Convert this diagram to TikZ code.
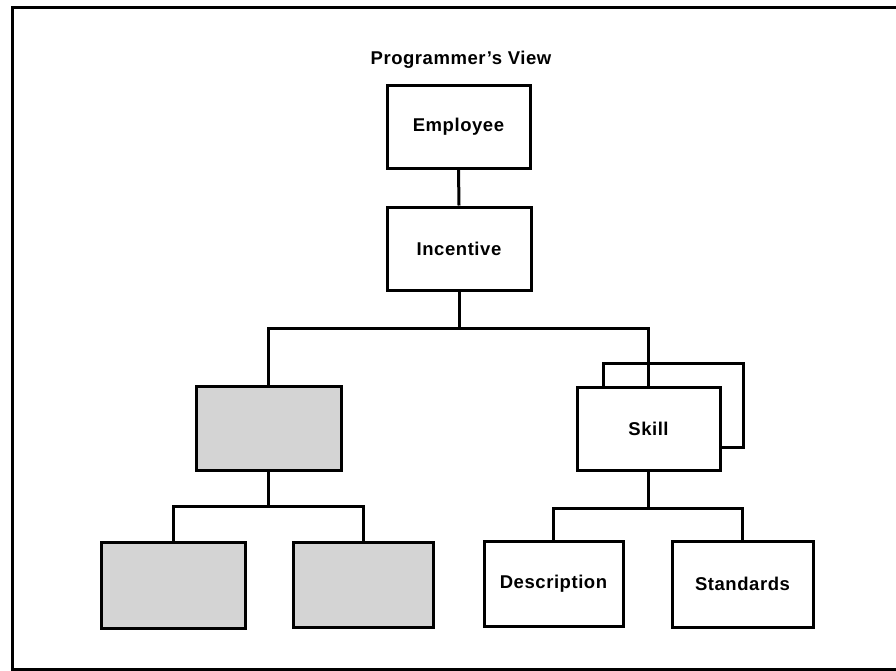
\documentclass[tikz,border=0pt]{standalone}
\usepackage{fontspec}
\setmainfont{Liberation Sans}[LetterSpace=3]
\begin{document}
\begin{tikzpicture}[x=1pt,y=-1pt,
  line width=3pt,
  lbl/.style={font=\fontsize{18.5}{22}\selectfont\bfseries},
  box/.style={draw, line width=3pt, fill=white, minimum width=#1, minimum height=83pt, inner sep=0pt, lbl},
  box/.default=143pt,
  shaded/.style={box=#1, fill=black!17},
  shaded/.default=144pt,
  link/.style={line width=3pt, line join=miter}]
\useasboundingbox (0,0) rectangle (896,671);
% outer frame, right edge runs off the page
\draw[line width=3pt] (920,8) -- (12.5,8) -- (12.5,669.5) -- (920,669.5);

\node[lbl, anchor=base] (title) at (461,65) {Programmer's View};

\node[box=143pt] (emp) at (458.5,127) {Employee};
\node[box=144pt] (inc) at (459,248.5) {Incentive};

% heights of the branch lines
\coordinate (busA) at (0,328);
\coordinate (busB) at (0,506);
\coordinate (busC) at (0,508);

\node[shaded=145pt, minimum height=84pt] (gtop) at (268.5,428) {};
\node[box=140pt, minimum height=84pt] (skillback) at (673,405) {};
\node[box=143pt] (skill) at (648.5,428.5) {Skill};
\node[shaded=144pt, minimum height=86pt] (gleft) at (173,585) {};
\node[shaded=140pt, minimum height=85pt] (gright) at (363,584.5) {};
\node[box=139pt, minimum height=85pt] (desc) at (553.5,583.5) {Description};
\node[box=141pt, minimum height=86pt] (std) at (742.5,584) {Standards};

% connectors
\draw[link] (emp.south) -- (inc.north);
\draw[link] (inc.south) -- (inc.south |- busA) -| (gtop.north);
\draw[link] (inc.south |- busA) -| (skill.north);
\draw[link] (gtop.south) -- (gtop.south |- busB);
\draw[link] (gleft.north) |- (gtop.south |- busB) -| (gright.north);
\draw[link] (skill.south) -- (skill.south |- busC);
\draw[link] (desc.north) |- (skill.south |- busC) -| (std.north);
\end{tikzpicture}
\end{document}
